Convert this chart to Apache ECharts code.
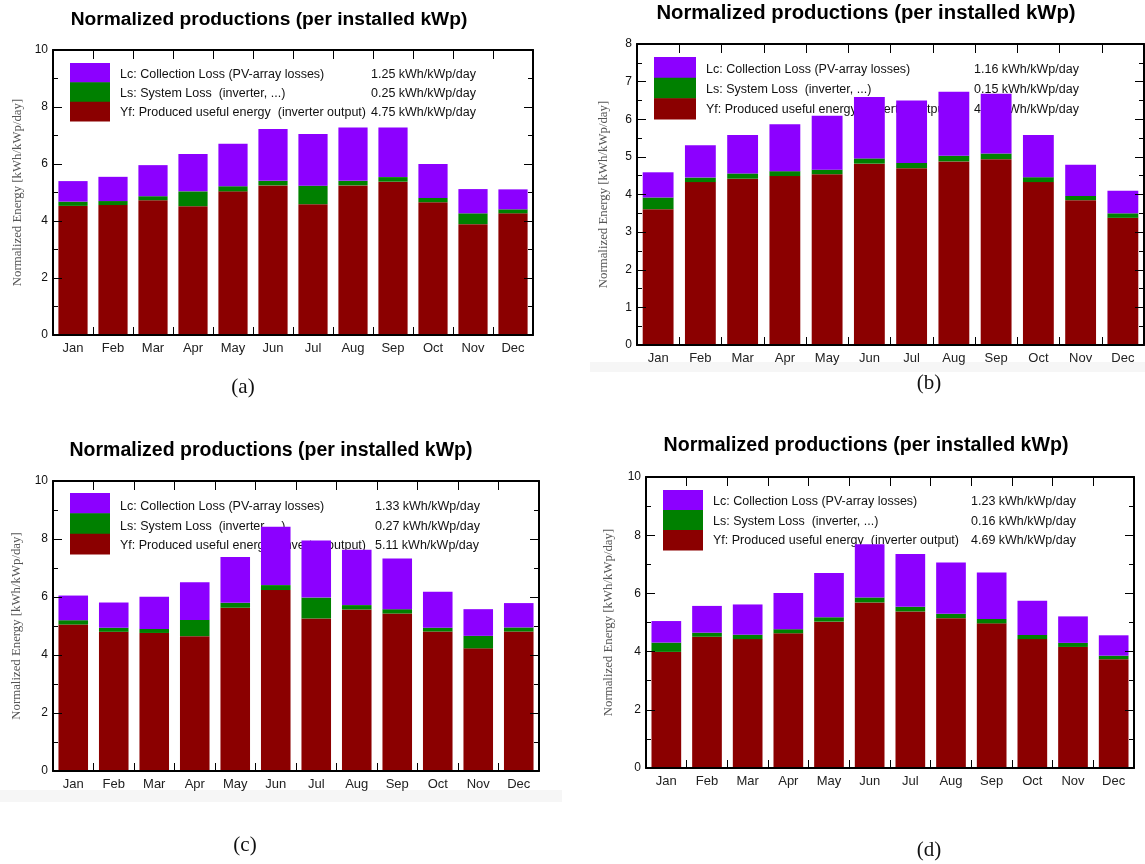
<!DOCTYPE html>
<html>
<head>
<meta charset="utf-8">
<script src="https://cdn.jsdelivr.net/npm/echarts@6/dist/echarts.min.js"></script>
<style>
html,body{margin:0;padding:0;background:#fff;}
#c{width:1145px;height:864px;}
</style>
</head>
<body>
<div id="c"></div>
<script>
// ---------- data ----------
const months = ['Jan','Feb','Mar','Apr','May','Jun','Jul','Aug','Sep','Oct','Nov','Dec'];

const titleText = 'Normalized productions (per installed kWp)';
const yAxisTitle = 'Normalized Energy [kWh/kWp/day]';
const legendNames = ['Lc: Collection Loss (PV-array losses)', 'Ls: System Loss  (inverter, ...)', 'Yf: Produced useful energy  (inverter output)'];
const panelLabels = ['(a)', '(b)', '(c)', '(d)'];

// panel (a)
const yfA = [4.53, 4.56, 4.73, 4.52, 5.04, 5.25, 4.59, 5.25, 5.38, 4.66, 3.89, 4.27];
const lsA = [0.15, 0.14, 0.14, 0.52, 0.18, 0.16, 0.65, 0.16, 0.16, 0.15, 0.38, 0.14];
const lcA = [0.72, 0.85, 1.09, 1.31, 1.49, 1.82, 1.81, 1.87, 1.74, 1.19, 0.85, 0.70];
const valuesA = ['1.25 kWh/kWp/day', '0.25 kWh/kWp/day', '4.75 kWh/kWp/day'];

// panel (b)
const yfB = [3.61, 4.33, 4.42, 4.49, 4.54, 4.82, 4.70, 4.88, 4.94, 4.33, 3.85, 3.38];
const lsB = [0.31, 0.12, 0.14, 0.13, 0.12, 0.14, 0.14, 0.15, 0.15, 0.13, 0.11, 0.12];
const lcB = [0.67, 0.86, 1.02, 1.25, 1.43, 1.63, 1.66, 1.70, 1.59, 1.12, 0.83, 0.60];
const valuesB = ['1.16 kWh/kWp/day', '0.15 kWh/kWp/day', '4.69 kWh/kWp/day'];

// panel (c)
const yfC = [5.05, 4.80, 4.76, 4.65, 5.63, 6.24, 5.26, 5.57, 5.43, 4.81, 4.23, 4.81];
const lsC = [0.15, 0.14, 0.14, 0.56, 0.17, 0.17, 0.72, 0.15, 0.15, 0.13, 0.43, 0.14];
const lcC = [0.85, 0.87, 1.11, 1.30, 1.58, 2.01, 1.97, 1.91, 1.75, 1.24, 0.92, 0.84];
const valuesC = ['1.33 kWh/kWp/day', '0.27 kWh/kWp/day', '5.11 kWh/kWp/day'];

// panel (d)
const yfD = [3.99, 4.51, 4.43, 4.63, 5.03, 5.69, 5.38, 5.15, 4.97, 4.43, 4.16, 3.74];
const lsD = [0.32, 0.14, 0.15, 0.14, 0.15, 0.17, 0.16, 0.15, 0.15, 0.14, 0.14, 0.12];
const lcD = [0.74, 0.92, 1.04, 1.24, 1.52, 1.83, 1.81, 1.76, 1.60, 1.18, 0.91, 0.70];
const valuesD = ['1.23 kWh/kWp/day', '0.16 kWh/kWp/day', '4.69 kWh/kWp/day'];

const yMaxes = [10, 8, 10, 10];
const yIntervals = [2, 1, 2, 2];

// ---------- layout / style ----------
const colors = { lc: '#8c00ff', ls: '#008000', yf: '#8b0000' };
const panels = [
  { grid: {left: 53, top: 50, width: 480, height: 285}, title: [269, 20], tfs: 19.2, yname: 29,
    sw: [70, 63, 40, 58], tx: 120, vx: 371, ty: [75, 94, 113], lab: [243, 387],
    yf: yfA, ls: lsA, lc: lcA, vals: valuesA },
  { grid: {left: 637, top: 44, width: 507, height: 301}, title: [866, 13], tfs: 20.3, yname: 27,
    sw: [654, 57, 42, 62], tx: 706, vx: 974, ty: [70, 90, 110], lab: [929, 383],
    yf: yfB, ls: lsB, lc: lcB, vals: valuesB },
  { grid: {left: 53, top: 481, width: 486, height: 290}, title: [271, 451], tfs: 19.5, yname: 30,
    sw: [70, 493, 40, 61], tx: 120, vx: 375, ty: [507, 527, 546], lab: [245, 845],
    yf: yfC, ls: lsC, lc: lcC, vals: valuesC },
  { grid: {left: 646, top: 477, width: 488, height: 291}, title: [866, 446], tfs: 19.6, yname: 31,
    sw: [663, 490, 40, 60], tx: 713, vx: 971, ty: [502, 522, 541], lab: [929, 850],
    yf: yfD, ls: lsD, lc: lcD, vals: valuesD }
];

const sans = 'Liberation Sans, Arial, sans-serif';
const serif = 'Liberation Serif, Times New Roman, serif';

const option = {
  backgroundColor: '#ffffff',
  animation: false,
  title: [], grid: [], xAxis: [], yAxis: [], series: [], graphic: []
};

// faint scan background strips
option.graphic.push({type: 'rect', z: -10, shape: {x: 590, y: 362, width: 555, height: 10}, style: {fill: '#f6f6f6'}});
option.graphic.push({type: 'rect', z: -10, shape: {x: 0, y: 790, width: 562, height: 12}, style: {fill: '#f6f6f6'}});

panels.forEach((p, i) => {
  option.grid.push(Object.assign({containLabel: false}, p.grid));
  option.title.push({
    text: titleText, left: p.title[0], top: p.title[1], padding: 0,
    textAlign: 'center', textVerticalAlign: 'middle',
    textStyle: {fontFamily: sans, fontSize: p.tfs, fontWeight: 'bold', color: '#000'}
  });
  const axLine = {show: true, onZero: false, lineStyle: {color: '#000', width: 2}};
  option.xAxis.push({
    type: 'category', data: months, gridIndex: i, position: 'bottom', z: 5,
    boundaryGap: true,
    axisLine: axLine,
    axisTick: {show: true, inside: true, length: 8, lineStyle: {color: '#000', width: 1}},
    axisLabel: {color: '#222', fontFamily: sans, fontSize: 13, margin: 7},
    splitLine: {show: false}
  });
  option.xAxis.push({
    type: 'category', data: months, gridIndex: i, position: 'top', z: 5,
    boundaryGap: true,
    axisLine: axLine,
    axisTick: {show: true, inside: true, length: 9, lineStyle: {color: '#000', width: 1}},
    axisLabel: {show: false},
    splitLine: {show: false}
  });
  const yBase = {
    type: 'value', gridIndex: i, min: 0, max: yMaxes[i], interval: yIntervals[i], z: 5,
    axisLine: axLine,
    axisTick: {show: true, inside: true, length: 9, lineStyle: {color: '#000', width: 1}},
    minorTick: {show: true, splitNumber: 2, length: 5, lineStyle: {color: '#000', width: 1}},
    splitLine: {show: false}, minorSplitLine: {show: false}
  };
  option.yAxis.push(Object.assign({}, yBase, {
    position: 'left',
    name: yAxisTitle, nameLocation: 'middle', nameGap: p.yname,
    nameTextStyle: {fontFamily: serif, fontSize: 12.8, color: '#555'},
    axisLabel: {color: '#111', fontFamily: sans, fontSize: 12, margin: 5}
  }));
  option.yAxis.push(Object.assign({}, yBase, {
    position: 'right', axisLabel: {show: false}
  }));

  const common = {type: 'bar', stack: 'p' + i, xAxisIndex: 2 * i, yAxisIndex: 2 * i,
                  barWidth: '73%', z: 2, emphasis: {disabled: true}};
  option.series.push(Object.assign({}, common, {name: 'Yf', data: p.yf, itemStyle: {color: colors.yf}}));
  option.series.push(Object.assign({}, common, {name: 'Ls', data: p.ls, itemStyle: {color: colors.ls}}));
  option.series.push(Object.assign({}, common, {name: 'Lc', data: p.lc, itemStyle: {color: colors.lc}}));

  // legend block (drawn beneath the bars)
  const [sx, sy, sw, sh] = p.sw;
  const seg = sh / 3;
  [colors.lc, colors.ls, colors.yf].forEach((c, k) => {
    option.graphic.push({type: 'rect', z: 1, shape: {x: sx, y: sy + k * seg, width: sw, height: seg + 0.5}, style: {fill: c}});
  });
  legendNames.forEach((t, k) => {
    option.graphic.push({type: 'text', z: 1, style: {text: t, x: p.tx, y: p.ty[k], fill: '#111',
      font: '12.5px ' + sans, textVerticalAlign: 'middle'}});
    option.graphic.push({type: 'text', z: 1, style: {text: p.vals[k], x: p.vx, y: p.ty[k], fill: '#111',
      font: '12.5px ' + sans, textVerticalAlign: 'middle'}});
  });
  option.graphic.push({type: 'text', z: 1, style: {text: panelLabels[i], x: p.lab[0], y: p.lab[1], fill: '#111',
    font: '21px ' + serif, textAlign: 'center', textVerticalAlign: 'middle'}});
});

const chart = echarts.init(document.getElementById('c'), null, {renderer: 'canvas'});
chart.setOption(option);
</script>
</body>
</html>
